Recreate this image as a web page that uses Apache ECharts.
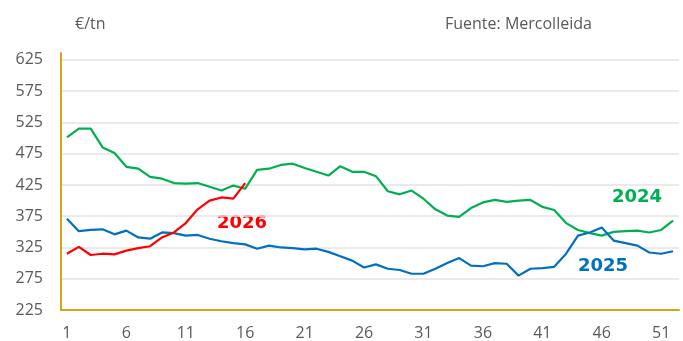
<!DOCTYPE html>
<html>
<head>
<meta charset="utf-8">
<script src="https://cdn.jsdelivr.net/npm/echarts@6/dist/echarts.min.js"></script>
<style>
  html, body { margin: 0; padding: 0; background: #fff; }
  #chart { width: 683px; height: 341px; }
</style>
</head>
<body>
<div id="chart"></div>
<script>
// Weekly price, €/tn
const weeks = Array.from({ length: 52 }, (_, i) => String(i + 1));

const price2024 = [501, 515, 515, 485, 476, 454, 451, 438, 435, 428, 427, 428, 422, 416, 424, 419,
  449, 451, 457, 459, 452, 446, 440, 455, 446, 446, 439, 415, 410, 416, 403, 386, 376, 374, 388, 397,
  401, 398, 400, 401, 390, 385, 364, 353, 348, 344, 350, 351, 352, 349, 353, 368];

const price2025 = [371, 351, 353, 354, 346, 352, 341, 339, 349, 348, 344, 345, 339, 335, 332, 330,
  323, 328, 325, 324, 322, 323, 318, 311, 304, 293, 298, 291, 289, 283, 283, 291, 300, 308, 296, 295,
  300, 299, 280, 291, 292, 294, 315, 344, 349, 357, 336, 332, 328, 317, 315, 319];

const price2026 = [315, 326, 313, 315, 314, 320, 324, 327, 341, 349, 364, 386, 400, 405, 403, 428];

const yMin = 225, yMax = 636, yStep = 50;

const GOLD = '#D9A514';
const TXT = '#5a5a5a';
const FONT = '"Open Sans", sans-serif';
const LABEL_FONT = '"DejaVu Sans", sans-serif';

const chart = echarts.init(document.getElementById('chart'), null, { renderer: 'canvas' });

function line(name, data, color) {
  return {
    name, type: 'line', data,
    symbol: 'none', smooth: false,
    lineStyle: { color, width: 2.2 },
    itemStyle: { color },
    animation: false
  };
}

chart.setOption({
  animation: false,
  grid: { left: 61, right: 4, top: 53, bottom: 28.3 },
  xAxis: {
    type: 'category',
    data: weeks,
    boundaryGap: true,
    axisLine: { lineStyle: { color: GOLD, width: 2 } },
    axisTick: { show: false },
    axisLabel: { interval: 4, color: TXT, fontFamily: FONT, fontSize: 16, margin: 15 },
    splitLine: { show: false }
  },
  yAxis: {
    type: 'value',
    min: yMin, max: yMax, interval: yStep,
    axisLine: { show: true, lineStyle: { color: GOLD, width: 2 } },
    axisTick: { show: false },
    axisLabel: { color: TXT, fontFamily: FONT, fontSize: 16, margin: 18, showMaxLabel: false,
      verticalAlign: 'middle', padding: [3, 0, 0, 0] },
    splitLine: { show: true, showMinLine: false, showMaxLine: false, lineStyle: { color: '#e3e3e3', width: 1.5 } }
  },
  series: [
    line('2024', price2024, '#00B050'),
    line('2025', price2025, '#0070C0'),
    line('2026', price2026, '#FF0000')
  ],
  graphic: [
    { type: 'text', left: 75, top: 16, style: { text: '€/tn', fill: TXT, font: '16px ' + FONT } },
    { type: 'text', left: 445, top: 16, style: { text: 'Fuente: Mercolleida', fill: TXT, font: '16px ' + FONT } },
    { type: 'text', left: 217, top: 214, style: { text: '2026', fill: '#FF0000', font: 'bold 18px ' + LABEL_FONT } },
    { type: 'text', left: 612, top: 188, style: { text: '2024', fill: '#00B050', font: 'bold 18px ' + LABEL_FONT } },
    { type: 'text', left: 578, top: 257, style: { text: '2025', fill: '#0070C0', font: 'bold 18px ' + LABEL_FONT } }
  ]
});
</script>
</body>
</html>
